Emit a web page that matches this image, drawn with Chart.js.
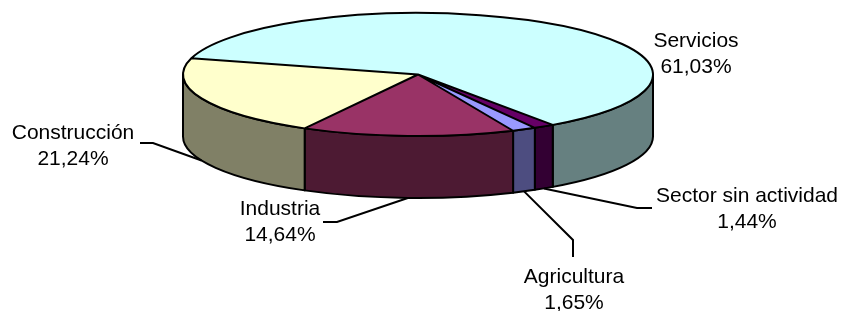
<!DOCTYPE html>
<html lang="es">
<head>
  <meta charset="UTF-8" />
  <title>Sectores</title>
  <script src="https://cdn.jsdelivr.net/npm/chart.js"></script>
  <style>
    body { margin: 0; background: #fff; }
    canvas { display: block; }
  </style>
</head>
<body>
  <canvas id="pie" width="843" height="311"></canvas>

  <script>
    // data, in clockwise order starting from the back-left edge
    const sectors = ['Servicios', 'Sector sin actividad', 'Agricultura', 'Industria', 'Construcción'];
    const shares = [61.03, 1.44, 1.65, 14.64, 21.24];

    const topColors = ['#CCFFFF', '#660066', '#9999FF', '#993366', '#FFFFCC'];
    const wallColors = ['#668080', '#330033', '#4D4D80', '#4D1A33', '#808066'];

    // ellipse the pie is projected onto, and height of the side wall
    const geo = { cx: 418, cy: 74.5, rx: 235, ry: 61.5, depth: 62 };

    // label baselines (name / value) and leader line elbows
    const labelPos = [
      { x: 696, y1: 47, y2: 73, leader: null },
      { x: 747, y1: 202, y2: 228, leader: [[652, 208], [637, 208]] },
      { x: 574, y1: 283, y2: 309, leader: [[573, 257], [573, 240]] },
      { x: 280, y1: 215, y2: 241, leader: [[323, 222], [337, 222]] },
      { x: 73, y1: 139, y2: 165, leader: [[140, 143], [153, 143]] }
    ];

    function toEllipse(ctx, arc) {
      ctx.translate(geo.cx, geo.cy);
      ctx.scale(geo.rx / arc.outerRadius, geo.ry / arc.outerRadius);
      ctx.translate(-arc.x, -arc.y);
    }

    const pie3d = {
      id: 'pie3d',
      beforeDatasetsDraw(chart) {
        const ctx = chart.ctx;
        const arcs = chart.getDatasetMeta(0).data;

        // front walls: only the part of each slice facing the viewer (0..PI)
        ctx.save();
        ctx.lineWidth = 2;
        ctx.strokeStyle = '#000';
        ctx.lineJoin = 'round';
        arcs.forEach((arc, i) => {
          for (let k = -1; k <= 1; k++) {
            const lo = Math.max(arc.startAngle, 2 * Math.PI * k);
            const hi = Math.min(arc.endAngle, 2 * Math.PI * k + Math.PI);
            if (hi <= lo) continue;
            ctx.beginPath();
            ctx.ellipse(geo.cx, geo.cy, geo.rx, geo.ry, 0, lo, hi);
            ctx.ellipse(geo.cx, geo.cy + geo.depth, geo.rx, geo.ry, 0, hi, lo, true);
            ctx.closePath();
            ctx.fillStyle = wallColors[i];
            ctx.fill();
            ctx.stroke();
          }
        });
        ctx.restore();

        // the library draws the top faces through this transform
        ctx.save();
        toEllipse(ctx, arcs[0]);
      },
      afterDatasetsDraw(chart) {
        const ctx = chart.ctx;
        const arcs = chart.getDatasetMeta(0).data;
        ctx.restore();

        // outline of the top faces, stroked with an even pen
        ctx.save();
        toEllipse(ctx, arcs[0]);
        ctx.beginPath();
        arcs.forEach(arc => {
          ctx.moveTo(arc.x, arc.y);
          ctx.arc(arc.x, arc.y, arc.outerRadius, arc.startAngle, arc.endAngle);
          ctx.closePath();
        });
        ctx.restore();
        ctx.save();
        ctx.lineWidth = 2;
        ctx.lineJoin = 'round';
        ctx.strokeStyle = '#000';
        ctx.stroke();
        ctx.restore();

        // labels with leader lines
        ctx.save();
        ctx.font = '21px "Liberation Sans", Arial, sans-serif';
        ctx.fillStyle = '#000';
        ctx.textAlign = 'center';
        ctx.textBaseline = 'alphabetic';
        ctx.strokeStyle = '#000';
        ctx.lineWidth = 2;
        arcs.forEach((arc, i) => {
          const p = labelPos[i];
          ctx.fillText(sectors[i], p.x, p.y1);
          ctx.fillText(shares[i].toFixed(2).replace('.', ',') + '%', p.x, p.y2);
          if (p.leader) {
            const mid = (arc.startAngle + arc.endAngle) / 2;
            const ax = geo.cx + geo.rx * Math.cos(mid);
            const ay = geo.cy + geo.depth + geo.ry * Math.sin(mid);
            ctx.beginPath();
            ctx.moveTo(p.leader[0][0], p.leader[0][1]);
            ctx.lineTo(p.leader[1][0], p.leader[1][1]);
            ctx.lineTo(ax, ay);
            ctx.stroke();
          }
        });
        ctx.restore();
      }
    };

    new Chart(document.getElementById('pie'), {
      type: 'pie',
      data: {
        labels: sectors,
        datasets: [{
          data: shares,
          backgroundColor: topColors,
          borderWidth: 0,
          clip: false
        }]
      },
      options: {
        responsive: false,
        devicePixelRatio: 1,
        animation: false,
        events: [],
        rotation: -74.7,
        layout: { padding: 0 },
        plugins: {
          legend: { display: false },
          tooltip: { enabled: false }
        }
      },
      plugins: [pie3d]
    });
  </script>
</body>
</html>
